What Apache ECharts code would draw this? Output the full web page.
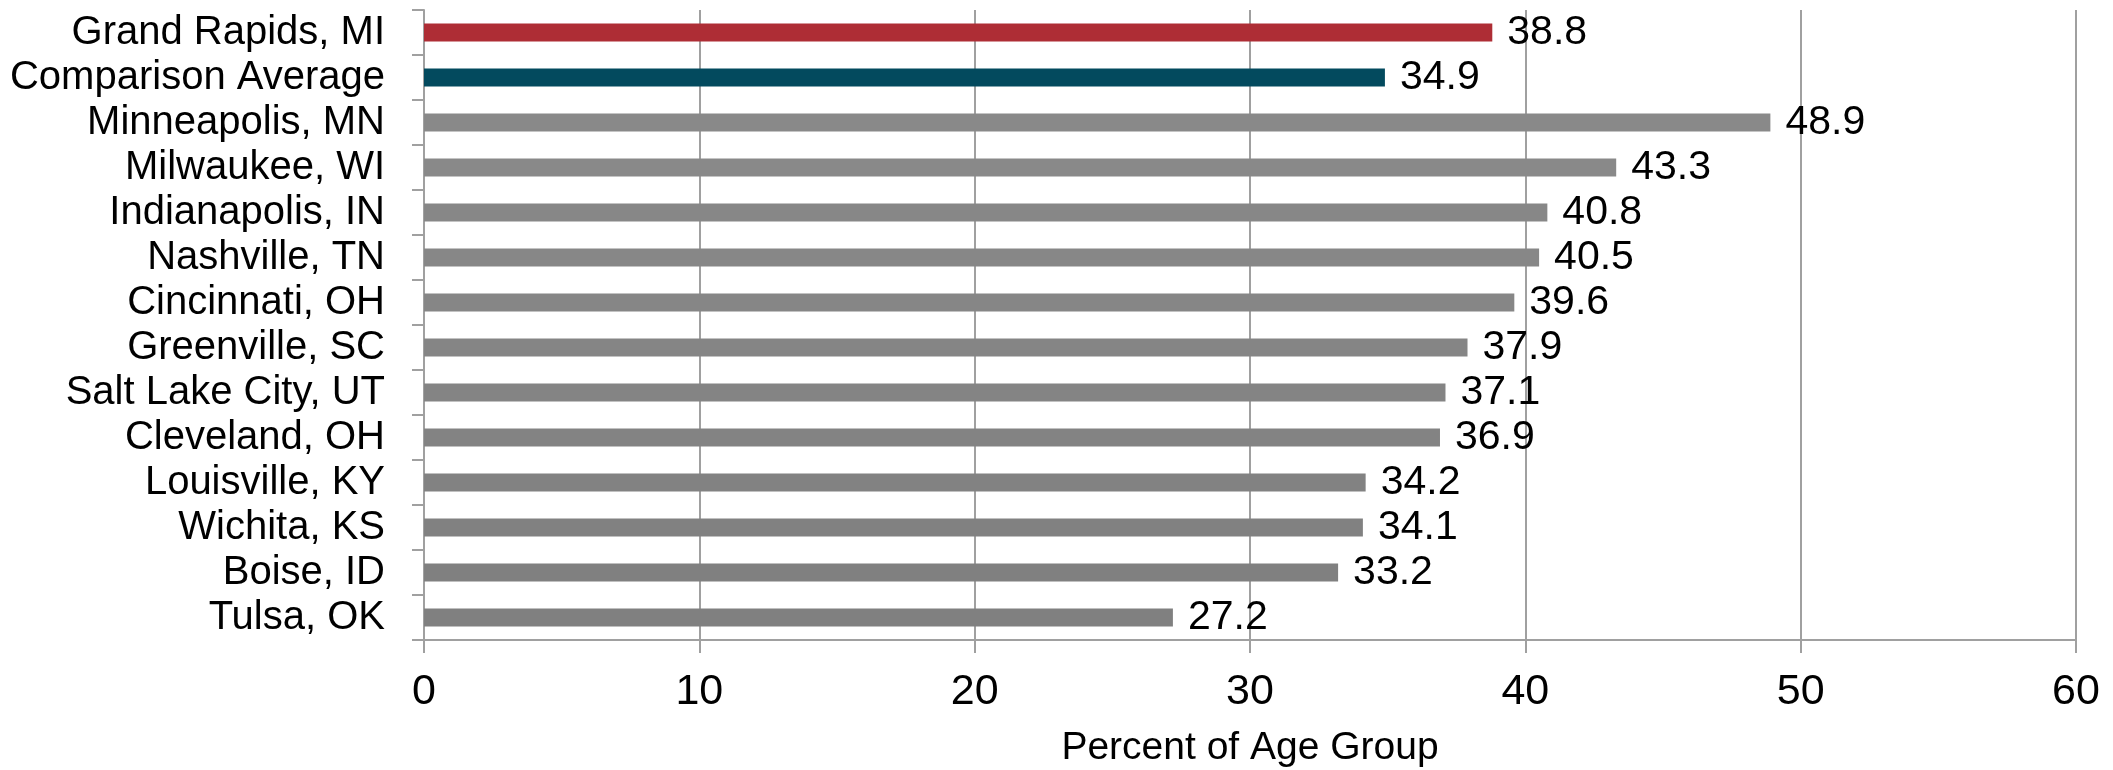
<!DOCTYPE html>
<html>
<head>
<meta charset="utf-8">
<script src="https://cdn.jsdelivr.net/npm/echarts@6/dist/echarts.min.js"></script>
<style>
html,body{margin:0;padding:0;background:#fff;}
#chart{width:2113px;height:770px;}
</style>
</head>
<body>
<div id="chart"></div>
<script>
const categories = ["Grand Rapids, MI","Comparison Average","Minneapolis, MN","Milwaukee, WI","Indianapolis, IN","Nashville, TN","Cincinnati, OH","Greenville, SC","Salt Lake City, UT","Cleveland, OH","Louisville, KY","Wichita, KS","Boise, ID","Tulsa, OK"];
const values = [38.8, 34.9, 48.9, 43.3, 40.8, 40.5, 39.6, 37.9, 37.1, 36.9, 34.2, 34.1, 33.2, 27.2];
const barColors = ["#AE2D35","#034A5E","#898989","#898989","#878787","#878787","#868686","#858585","#848484","#838383","#828282","#818181","#808080","#808080"];
const xTicks = [0, 10, 20, 30, 40, 50, 60];
const axisTitle = "Percent of Age Group";

const FONT = "'Liberation Sans', Arial, sans-serif";
const chart = echarts.init(document.getElementById('chart'), null, {renderer: 'canvas'});
chart.setOption({
  animation: false,
  backgroundColor: '#ffffff',
  grid: {left: 424, right: 37, top: 10, bottom: 130, containLabel: false, outerBoundsMode: 'none'},
  xAxis: {
    type: 'value',
    min: xTicks[0], max: xTicks[xTicks.length - 1], interval: xTicks[1] - xTicks[0],
    name: axisTitle, nameLocation: 'middle', nameGap: 89,
    nameTextStyle: {fontFamily: FONT, fontSize: 39, color: '#000'},
    axisLine: {show: true, lineStyle: {color: '#a0a0a0', width: 2}},
    axisTick: {show: true, length: 13, lineStyle: {color: '#a0a0a0', width: 2}},
    splitLine: {show: true, lineStyle: {color: '#a0a0a0', width: 2}},
    axisLabel: {fontFamily: FONT, fontSize: 43, color: '#000', margin: 31}
  },
  yAxis: {
    type: 'category', inverse: true, data: categories,
    axisLine: {show: true, lineStyle: {color: '#a0a0a0', width: 2}},
    axisTick: {show: true, length: 12, lineStyle: {color: '#a0a0a0', width: 2}},
    splitLine: {show: false},
    axisLabel: {fontFamily: FONT, fontSize: 40, color: '#000', margin: 39, interval: 0}
  },
  series: [{
    type: 'bar',
    barWidth: 18,
    data: values.map((v, i) => ({value: v, itemStyle: {color: barColors[i]}})),
    label: {show: true, position: 'right', distance: 15, fontFamily: FONT, fontSize: 41, color: '#000',
      formatter: p => p.value.toFixed(1)}
  }]
});
</script>
</body>
</html>
